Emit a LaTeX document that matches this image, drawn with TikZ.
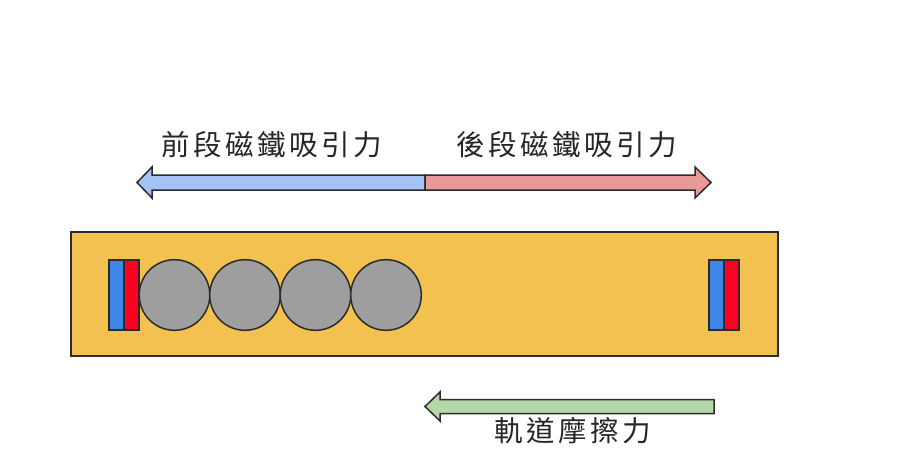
\documentclass[tikz,border=0pt]{standalone}
\usepackage{fontspec}
\newfontfamily\cjk[LetterSpace=12]{Noto Sans CJK TC}
\definecolor{track}{HTML}{F3C14F}
\definecolor{magblue}{HTML}{3D85E6}
\definecolor{magred}{HTML}{FF0022}
\definecolor{ball}{HTML}{9E9E9E}
\definecolor{arrblue}{HTML}{A4C2F4}
\definecolor{arrred}{HTML}{EA9999}
\definecolor{arrgreen}{HTML}{B6D7A8}
\definecolor{edge}{HTML}{2B2B2B}
\definecolor{txt}{HTML}{262626}
\begin{document}
\begin{tikzpicture}[x=1pt,y=-1pt,
  outline/.style={draw=edge,line width=1.5pt,line join=miter},
  label/.style={font=\cjk\fontsize{28.5}{32}\selectfont,text=txt,inner sep=0pt,anchor=center}]
\useasboundingbox (0,0) rectangle (905,468);
\fill[white] (0,0) rectangle (905,468);
% track
\draw[outline,fill=track] (71,232) rectangle (778,356);
% left magnet
\draw[outline,fill=magblue] (109,260) rectangle (124,330);
\draw[outline,fill=magred] (124,260) rectangle (139,330);
% balls
\foreach \cx/\nm in {174.5/b1,245/b2,315.5/b3,386/b4}
  \draw[outline,fill=ball] (\cx,295) circle (35.3);
% right magnet
\draw[outline,fill=magblue] (709,260) rectangle (724,330);
\draw[outline,fill=magred] (724,260) rectangle (739,330);
% top arrow (blue left part)
\draw[outline,fill=arrblue] (425,175) -- (152,175) -- (152,167) -- (137,182.5) -- (152,198) -- (152,190) -- (425,190) -- cycle;
% top arrow (red right part)
\draw[outline,fill=arrred] (425,175) -- (695,175) -- (695,167) -- (711,182.5) -- (695,198) -- (695,190) -- (425,190) -- cycle;
% bottom arrow (green)
\draw[outline,fill=arrgreen] (714,399.5) -- (440,399.5) -- (440,392) -- (425,406.5) -- (440,421) -- (440,413.5) -- (714,413.5) -- cycle;
% labels
\node[label] (front) at (272,145) {前段磁鐵吸引力};
\node[label] (back) at (567,145) {後段磁鐵吸引力};
\node[label] (fric) at (573,431) {軌道摩擦力};
\end{tikzpicture}
\end{document}
